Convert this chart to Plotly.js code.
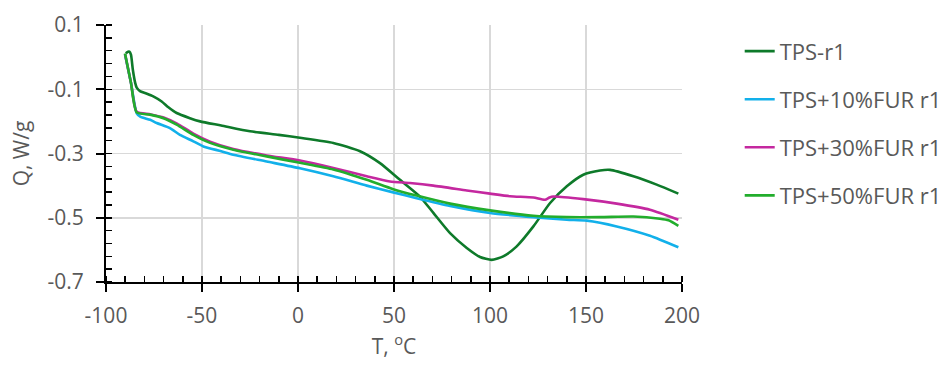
<!DOCTYPE html>
<html>
<head>
<meta charset="utf-8">
<script src="https://cdn.plot.ly/plotly-3.0.1.min.js"></script>
<style>html,body{margin:0;padding:0;background:#fff;}#chart{width:952px;height:365px;}</style>
</head>
<body>
<div id="chart"></div>
<script>
// Series names
const seriesNames = ["TPS-r1", "TPS+10%FUR r1", "TPS+30%FUR r1", "TPS+50%FUR r1"];

// Tick labels
const xTickVals = [-100, -50, 0, 50, 100, 150, 200];
const xTickText = ["-100", "-50", "0", "50", "100", "150", "200"];
const yTickVals = [-0.7, -0.5, -0.3, -0.1, 0.1];
const yTickText = ["-0.7", "-0.5", "-0.3", "-0.1", "0.1"];

// TPS-r1
const tpsX = [-89.7, -88.5, -87.8, -87.0, -86.0, -84.8, -84.0, -82.3, -79.0, -75.4, -71.0, -67.5, -63.2, -56.3, -51.0, -40.0, -25.0, -10.0, 1.0, 18.4, 32.3, 42.7, 53.1, 63.5, 70.5, 79.2, 87.9, 94.8, 100.9, 106.9, 113.9, 122.6, 131.3, 140.0, 148.6, 157.3, 162.5, 174.7, 186.8, 198.1];
const tpsY = [0.012, 0.017, 0.017, 0.008, -0.040, -0.080, -0.095, -0.106, -0.113, -0.122, -0.138, -0.156, -0.174, -0.190, -0.200, -0.213, -0.231, -0.242, -0.251, -0.267, -0.293, -0.330, -0.382, -0.434, -0.485, -0.548, -0.594, -0.622, -0.631, -0.620, -0.589, -0.527, -0.454, -0.402, -0.366, -0.353, -0.351, -0.371, -0.397, -0.425];

// TPS+10%FUR r1
const fur10X = [-90.1, -87.0, -84.0, -82.0, -77.0, -73.6, -66.7, -61.5, -54.5, -49.3, -40.0, -33.7, -16.3, 1.0, 18.4, 35.8, 49.6, 61.8, 79.2, 100.0, 122.6, 140.0, 150.4, 166.0, 183.3, 198.1];
const fur10Y = [0.008, -0.080, -0.175, -0.186, -0.195, -0.205, -0.221, -0.242, -0.262, -0.278, -0.293, -0.304, -0.325, -0.346, -0.371, -0.400, -0.421, -0.439, -0.463, -0.485, -0.498, -0.506, -0.509, -0.527, -0.556, -0.592];

// TPS+30%FUR r1
const fur30X = [-90.1, -87.0, -84.0, -77.0, -70.0, -63.0, -54.5, -45.8, -33.7, -16.3, 1.0, 18.4, 35.8, 47.9, 58.3, 70.5, 87.9, 100.0, 110.4, 122.6, 128.6, 131.0, 133.0, 148.6, 166.0, 183.3, 198.1];
const fur30Y = [0.010, -0.080, -0.170, -0.178, -0.188, -0.207, -0.238, -0.263, -0.286, -0.306, -0.322, -0.345, -0.371, -0.387, -0.392, -0.400, -0.415, -0.425, -0.433, -0.437, -0.444, -0.437, -0.434, -0.442, -0.456, -0.475, -0.506];

// TPS+50%FUR r1
const fur50X = [-90.1, -87.0, -84.0, -77.1, -70.1, -63.2, -54.5, -45.8, -33.7, -16.3, 1.0, 18.4, 35.8, 49.6, 61.8, 79.2, 100.0, 122.6, 140.0, 157.3, 174.7, 188.5, 193.0, 198.1];
const fur50Y = [0.011, -0.080, -0.172, -0.179, -0.190, -0.210, -0.242, -0.267, -0.288, -0.309, -0.329, -0.350, -0.382, -0.411, -0.431, -0.456, -0.477, -0.494, -0.498, -0.498, -0.496, -0.503, -0.508, -0.525];

const colors = ["#0e7a2a", "#12b0ea", "#c4289f", "#22ad2c"];

const xs = [tpsX, fur10X, fur30X, fur50X];
const ys = [tpsY, fur10Y, fur30Y, fur50Y];

const traces = seriesNames.map((n, i) => ({
  type: "scatter",
  mode: "lines",
  name: n,
  x: xs[i],
  y: ys[i],
  legendgroup: "g" + i,
  line: {color: colors[i], width: 2.6, shape: "spline", smoothing: 0.6}
}));

const fontFam = "'Open Sans', sans-serif";
const gray = "#595959";
const gridC = "#d9d9d9";

const layout = {
  width: 952, height: 365,
  margin: {l: 106, r: 270, t: 25, b: 83},
  paper_bgcolor: "#fff", plot_bgcolor: "#fff",
  font: {family: fontFam, color: gray, size: 21},
  showlegend: true,
  legend: {
    xref: "container", yref: "container",
    x: 0.777, xanchor: "left", y: 0.917, yanchor: "top",
    traceorder: "grouped", tracegroupgap: 16.5,
    font: {family: fontFam, size: 22, color: gray},
    bgcolor: "rgba(0,0,0,0)"
  },
  xaxis: {
    range: [-100, 200], tickmode: "array", tickvals: xTickVals, ticktext: xTickText,
    showgrid: true, gridcolor: gridC, gridwidth: 1.5,
    zeroline: false,
    showline: true, linecolor: "#000", linewidth: 2,
    ticks: "outside", ticklen: 8, tickwidth: 2, tickcolor: "#000",
    ticklabelstandoff: 6,
    tickfont: {family: fontFam, size: 21, color: gray},
    minor: {tick0: -100, dtick: 10, ticks: "inside", ticklen: 6, tickwidth: 1.5, tickcolor: "#000", showgrid: false},
    title: {text: "T, <sup>o</sup>C", font: {family: fontFam, size: 21, color: gray}, standoff: 8},
    fixedrange: true
  },
  xaxis2: {
    overlaying: "x", anchor: "y", side: "bottom",
    range: [-100, 200], tick0: -100, dtick: 50,
    showgrid: false, zeroline: false, showline: false,
    ticks: "inside", ticklen: 8, tickwidth: 2, tickcolor: "#000",
    showticklabels: false
  },
  xaxis3: {
    overlaying: "x", anchor: "y", side: "top",
    range: [-100, 200],
    showgrid: false, zeroline: false, showline: true, linecolor: gridC, linewidth: 2,
    ticks: "", showticklabels: false
  },
  yaxis: {
    range: [-0.7, 0.1], tickmode: "array", tickvals: yTickVals, ticktext: yTickText,
    showgrid: true, gridcolor: gridC, gridwidth: 1.5,
    zeroline: false,
    showline: true, linecolor: "#000", linewidth: 2,
    ticks: "outside", ticklen: 8, tickwidth: 2, tickcolor: "#000",
    ticklabelstandoff: 8,
    tickfont: {family: fontFam, size: 21, color: gray},
    minor: {tick0: 0.1, dtick: 0.04, ticks: "inside", ticklen: 6, tickwidth: 1.5, tickcolor: "#000", showgrid: false},
    title: {text: "Q, W/g", font: {family: fontFam, size: 21, color: gray}, standoff: 12},
    fixedrange: true
  },
  yaxis2: {
    overlaying: "y", anchor: "x", side: "left",
    range: [-0.7, 0.1], tick0: 0.1, dtick: 0.2,
    showgrid: false, zeroline: false, showline: false,
    ticks: "inside", ticklen: 8, tickwidth: 2, tickcolor: "#000",
    showticklabels: false
  },
  yaxis3: {
    overlaying: "y", anchor: "x", side: "right",
    range: [-0.7, 0.1],
    showgrid: false, zeroline: false, showline: true, linecolor: gridC, linewidth: 2,
    ticks: "", showticklabels: false
  }
};

Plotly.newPlot("chart", traces, layout, {staticPlot: true, displayModeBar: false});
</script>
</body>
</html>
